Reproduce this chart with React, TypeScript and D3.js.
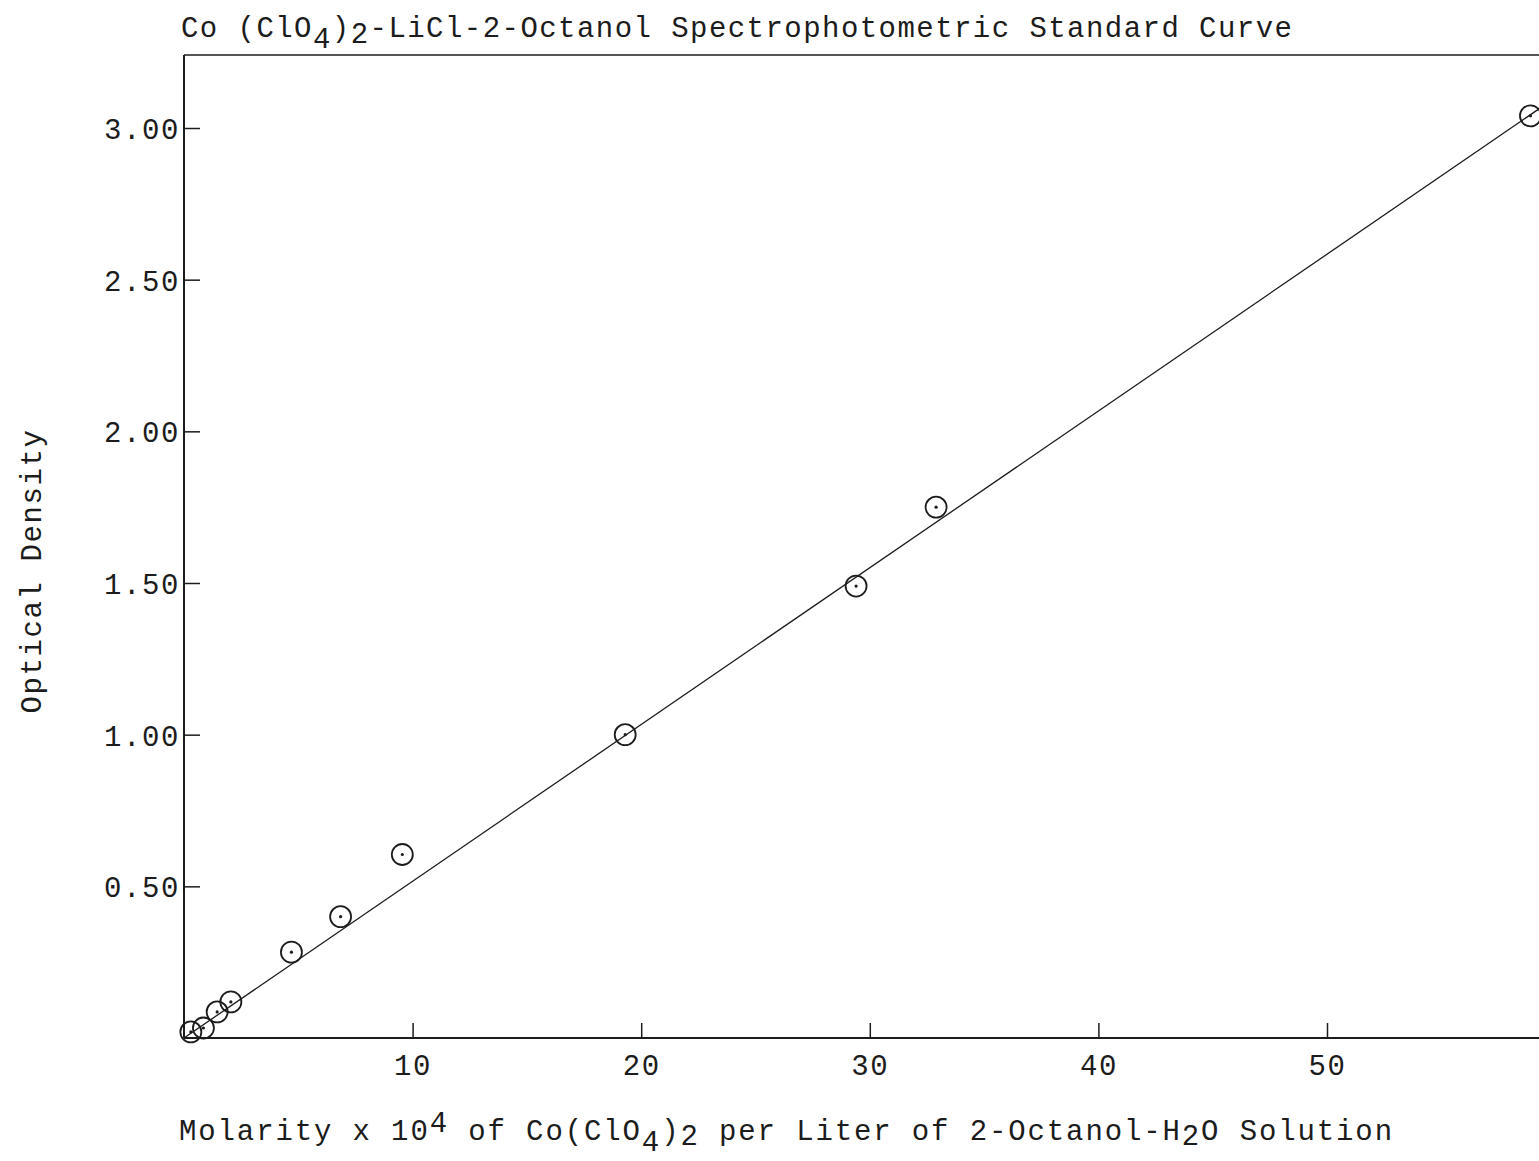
import React, { useEffect, useRef } from "react";
import * as d3 from "d3";

// measured points: Co(ClO4)2 molarity x 10^4 vs optical density
const molarity = [0.3, 0.85, 1.45, 2.05, 4.7, 6.85, 9.55, 19.3, 29.4, 32.9, 58.9];
const density = [0.02, 0.033, 0.086, 0.119, 0.283, 0.4, 0.605, 1.0, 1.49, 1.75, 3.04];

// drawn standard curve (straight line through origin)
const fitX = [0, 59.6];
const fitY = [0, 3.08];

const xTicks = [10, 20, 30, 40, 50];
const yTicks = [0.5, 1.0, 1.5, 2.0, 2.5, 3.0];

const FONT = "'Liberation Mono', 'DejaVu Sans Mono', monospace";
const INK = "#1c1c1c";

const App = () => {
  const ref = useRef<SVGSVGElement>(null);

  useEffect(() => {
    drawChart();
  }, []);

  const drawChart = () => {
    const W = 1539;
    const left = 184;
    const top = 55;
    const bottom = 1038;

    const svg = d3.select(ref.current);
    svg.selectAll("*").remove();

    const x = d3.scaleLinear().domain([0, 10]).range([left, left + 228.6]);
    const y = d3.scaleLinear().domain([0, 3]).range([bottom, bottom - 910]);

    const text = (sel: any, spacing = 1.6) =>
      sel
        .attr("font-family", FONT)
        .attr("font-size", 29)
        .attr("letter-spacing", spacing)
        .attr("fill", INK);

    // title
    const title = svg.append("text").attr("x", 181).attr("y", 37).call(text, 1.45);
    title.append("tspan").text("Co (ClO");
    title.append("tspan").attr("dy", 11).text("4");
    title.append("tspan").attr("dy", -11).text(")");
    title.append("tspan").attr("dy", 6).text("2");
    title.append("tspan").attr("dy", -6).text("-LiCl-2-Octanol Spectrophotometric Standard Curve");

    // frame: top, left, bottom
    const frame = svg.append("g").attr("stroke", INK).attr("fill", "none");
    frame.append("line").attr("x1", left).attr("x2", W).attr("y1", top).attr("y2", top).attr("stroke-width", 1.6);
    frame.append("line").attr("x1", left).attr("x2", left).attr("y1", top).attr("y2", bottom).attr("stroke-width", 2);
    frame.append("line").attr("x1", left).attr("x2", W).attr("y1", bottom).attr("y2", bottom).attr("stroke-width", 2);

    // x axis (ticks pointing inward)
    const gx = svg
      .append("g")
      .attr("transform", `translate(0,${bottom})`)
      .call(d3.axisBottom(x).tickValues(xTicks).tickSizeInner(-15).tickSizeOuter(0).tickPadding(28).tickFormat(d3.format("d")));
    gx.select(".domain").remove();
    gx.selectAll("line").attr("stroke", INK).attr("stroke-width", 1.5);
    gx.selectAll("text").call(text).attr("dy", "0.3em");

    // y axis (ticks pointing inward)
    const gy = svg
      .append("g")
      .attr("transform", `translate(${left},0)`)
      .call(d3.axisLeft(y).tickValues(yTicks).tickSizeInner(-16).tickSizeOuter(0).tickPadding(4).tickFormat(d3.format(".2f")));
    gy.select(".domain").remove();
    gy.selectAll("line").attr("stroke", INK).attr("stroke-width", 1.5);
    gy.selectAll("text").call(text).attr("dy", "0.36em");

    // y label
    svg
      .append("text")
      .attr("transform", `translate(41,571) rotate(-90)`)
      .attr("text-anchor", "middle")
      .call(text)
      .text("Optical Density");

    // x label
    const xl = svg.append("text").attr("x", 179).attr("y", 1140).call(text, 1.88);
    xl.append("tspan").text("Molarity x 10");
    xl.append("tspan").attr("dy", -8).text("4");
    xl.append("tspan").attr("dy", 8).text(" of Co(ClO");
    xl.append("tspan").attr("dy", 11).text("4");
    xl.append("tspan").attr("dy", -11).text(")");
    xl.append("tspan").attr("dy", 5).text("2");
    xl.append("tspan").attr("dy", -5).text(" per Liter of 2-Octanol-H");
    xl.append("tspan").attr("dy", 5).text("2");
    xl.append("tspan").attr("dy", -5).text("O Solution");

    // fitted line
    const line = d3
      .line<number>()
      .x((d) => x(d))
      .y((_, i) => y(fitY[i]));
    svg
      .append("path")
      .datum(fitX)
      .attr("d", line)
      .attr("fill", "none")
      .attr("stroke", INK)
      .attr("stroke-width", 1.3);

    // points: open circle with centre dot
    const pts = svg
      .append("g")
      .selectAll("g")
      .data(molarity)
      .enter()
      .append("g")
      .attr("transform", (d, i) => `translate(${x(d)},${y(density[i])})`);
    pts.append("circle").attr("r", 10.5).attr("fill", "none").attr("stroke", INK).attr("stroke-width", 1.8);
    pts.append("circle").attr("r", 1.6).attr("fill", INK);
  };

  return (
    <svg
      ref={ref}
      width={1539}
      height={1161}
      style={{ position: "absolute", left: 0, top: 0, display: "block", background: "#fff" }}
    />
  );
};

export default App;
